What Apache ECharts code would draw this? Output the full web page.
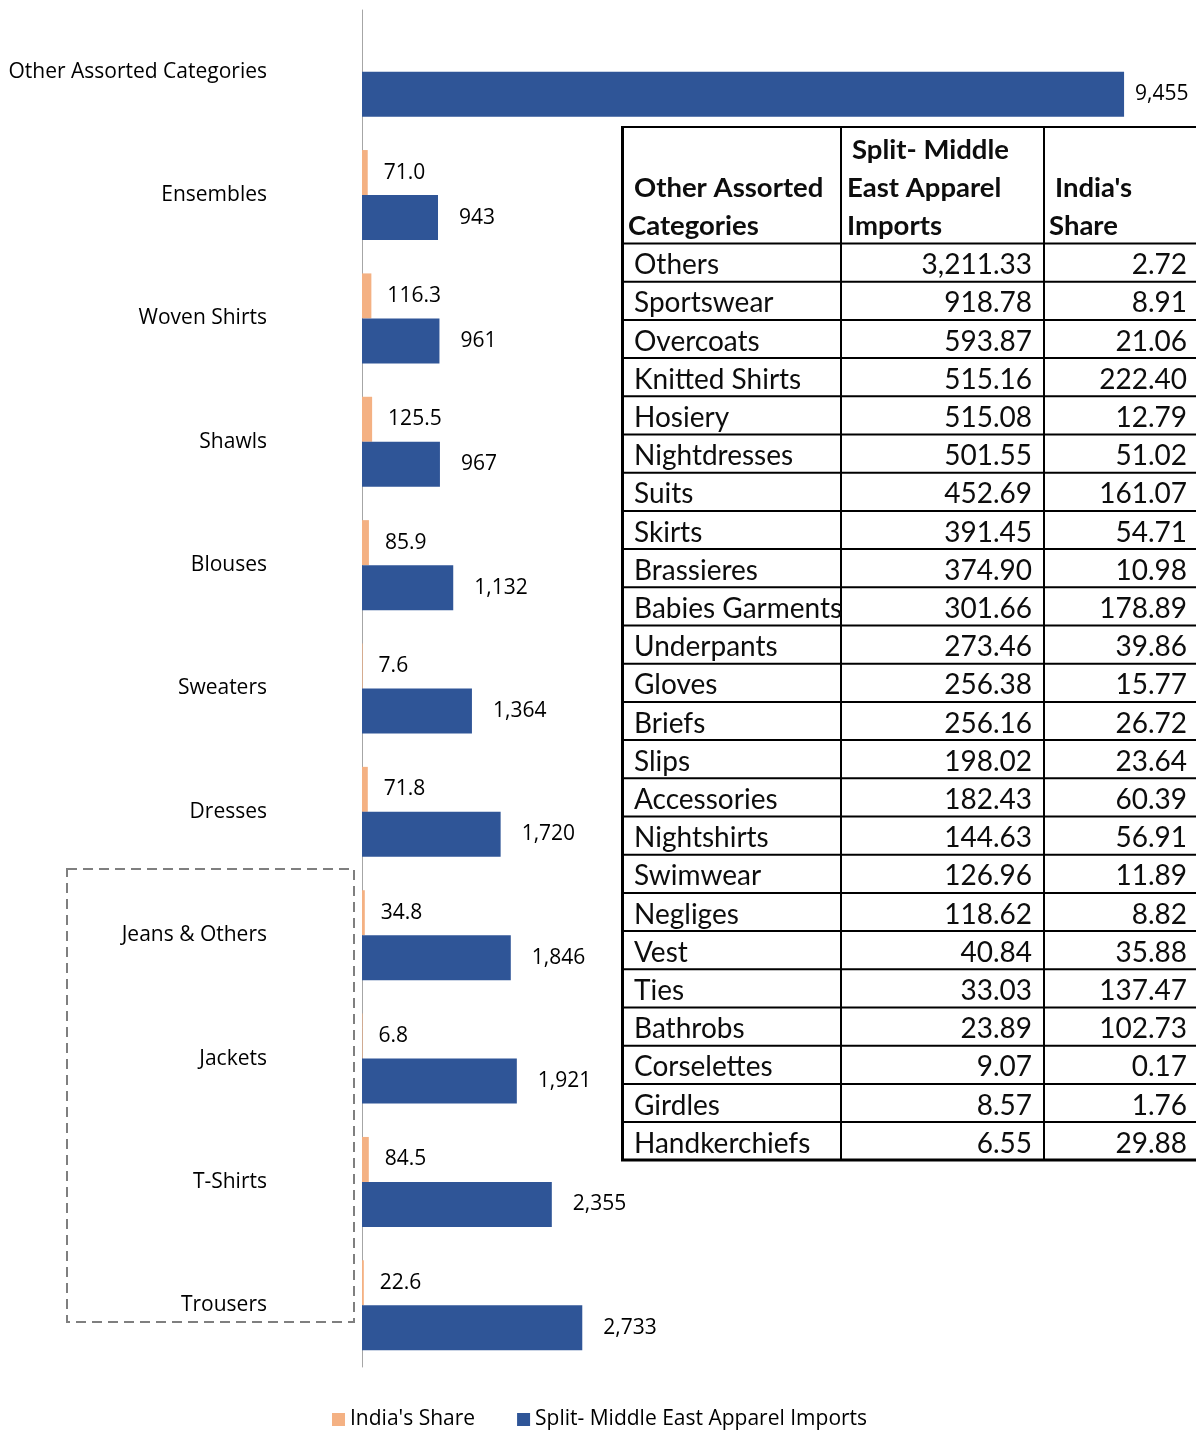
<!DOCTYPE html>
<html>
<head>
<meta charset="utf-8">
<script src="https://cdn.jsdelivr.net/npm/echarts@6/dist/echarts.min.js"></script>
<style>
html,body{margin:0;padding:0;background:#fff;}
#chart{width:1196px;height:1450px;}
</style>
</head>
<body>
<div id="chart"></div>
<script>
// ---- chart data ----
const categories = ['Other Assorted Categories','Ensembles','Woven Shirts','Shawls','Blouses','Sweaters','Dresses','Jeans & Others','Jackets','T-Shirts','Trousers'];
const indiaShare = [null, 71.0, 116.3, 125.5, 85.9, 7.6, 71.8, 34.8, 6.8, 84.5, 22.6];
const meImports = [9455, 943, 961, 967, 1132, 1364, 1720, 1846, 1921, 2355, 2733];
const seriesNames = ["India's Share", 'Split- Middle East Apparel Imports'];

// ---- embedded table data ----
const tableHeader = [['Other Assorted', 'Categories'], ['Split- Middle', 'East Apparel', 'Imports'], ["India's", 'Share']];
const tableCats = ['Others','Sportswear','Overcoats','Knitted Shirts','Hosiery','Nightdresses','Suits','Skirts','Brassieres','Babies Garments','Underpants','Gloves','Briefs','Slips','Accessories','Nightshirts','Swimwear','Negliges','Vest','Ties','Bathrobs','Corselettes','Girdles','Handkerchiefs'];
const tableImports = [3211.33,918.78,593.87,515.16,515.08,501.55,452.69,391.45,374.90,301.66,273.46,256.38,256.16,198.02,182.43,144.63,126.96,118.62,40.84,33.03,23.89,9.07,8.57,6.55];
const tableShare = [2.72,8.91,21.06,222.40,12.79,51.02,161.07,54.71,10.98,178.89,39.86,15.77,26.72,23.64,60.39,56.91,11.89,8.82,35.88,137.47,102.73,0.17,1.76,29.88];

const chart = echarts.init(document.getElementById('chart'), null, {renderer: 'canvas'});

const FONT = '"Open Sans", sans-serif';
const TFONT = 'Lato, "Open Sans", sans-serif';
const fmt2 = v => v.toLocaleString('en-US', {minimumFractionDigits: 2, maximumFractionDigits: 2});

// table graphics
const T = {left: 621, right: 1196, top: 126, headBottom: 243.5, rowH: 38.2, col1: 841, col2: 1044, bottom: 1161};
const g = [];
g.push({type: 'rect', shape: {x: T.left, y: T.top, width: T.right - T.left, height: T.bottom - T.top}, style: {fill: '#fff'}, z: 10});
function hline(y, w) { g.push({type: 'line', shape: {x1: T.left, y1: y, x2: T.right, y2: y}, style: {stroke: '#000', lineWidth: w}, z: 11}); }
function vline(x, w) { g.push({type: 'line', shape: {x1: x, y1: T.top, x2: x, y2: T.bottom}, style: {stroke: '#000', lineWidth: w}, z: 11}); }
hline(T.top + 1, 2);
hline(T.headBottom, 2);
for (let k = 1; k < tableCats.length; k++) hline(T.headBottom + T.rowH * k, 2);
hline(T.bottom - 1, 3);
vline(T.left + 1.5, 3);
vline(T.col1, 2);
vline(T.col2, 2);
function txt(s, x, y, align, bold) {
  g.push({type: 'text', z: 12, style: {text: s, x: x, y: y, align: align, verticalAlign: 'middle', fontSize: bold ? 27.5 : 28, fontFamily: TFONT, fontWeight: bold ? 'bold' : 'normal', fill: '#0d0d0d'}});
}
// header
txt(tableHeader[0][0], 634, 188, 'left', true);
txt(tableHeader[0][1], 628, 226, 'left', true);
txt(tableHeader[1][0], 852, 150, 'left', true);
txt(tableHeader[1][1], 847, 188, 'left', true);
txt(tableHeader[1][2], 847, 226, 'left', true);
txt(tableHeader[2][0], 1055, 188, 'left', true);
txt(tableHeader[2][1], 1049, 226, 'left', true);
tableCats.forEach((c, i) => {
  const y = T.headBottom + T.rowH * (i + 0.5) + 2.5;
  txt(c, 634, y, 'left', false);
  txt(fmt2(tableImports[i]), 1032, y, 'right', false);
  txt(fmt2(tableShare[i]), 1187, y, 'right', false);
});
// dashed annotation box around the last four categories
g.push({type: 'rect', shape: {x: 67, y: 869, width: 287, height: 453}, style: {fill: 'none', stroke: '#7f7f7f', lineWidth: 2, lineDash: [10, 6]}, z: 5});

const option = {
  backgroundColor: '#fff',
  animation: false,
  grid: {left: 362, right: 28, top: 10, bottom: 83, containLabel: false, outerBoundsMode: 'none'},
  legend: {
    data: seriesNames,
    left: 327, top: 1404,
    itemWidth: 13, itemHeight: 13, itemGap: 42,
    icon: 'rect',
    textStyle: {fontSize: 21, fontFamily: FONT, color: '#000'}
  },
  xAxis: {type: 'value', min: 0, max: 10000, show: false, splitLine: {show: false}},
  yAxis: {
    type: 'category', inverse: true, data: categories,
    axisLine: {show: true, lineStyle: {color: '#a6a6a6', width: 1}},
    axisTick: {show: false},
    splitLine: {show: false},
    axisLabel: {margin: 95, fontSize: 21, fontFamily: FONT, color: '#000'}
  },
  series: [
    {
      name: seriesNames[0], type: 'bar', barWidth: 45, barGap: '0%', barCategoryGap: '27%',
      itemStyle: {color: '#F4B183'},
      label: {show: true, position: 'right', distance: 16, fontSize: 21, fontFamily: FONT, color: '#000',
        formatter: p => (p.value == null ? '' : Number(p.value).toFixed(1))},
      data: indiaShare
    },
    {
      name: seriesNames[1], type: 'bar', barWidth: 45, barGap: '0%',
      itemStyle: {color: '#2F5597'},
      label: {show: true, position: 'right', distance: 21, fontSize: 21, fontFamily: FONT, color: '#000',
        formatter: p => Number(p.value).toLocaleString('en-US')},
      data: meImports.map((v, i) => i === 0 ? {value: v, label: {distance: 11}} : v)
    }
  ],
  graphic: g
};
chart.setOption(option);
</script>
</body>
</html>
